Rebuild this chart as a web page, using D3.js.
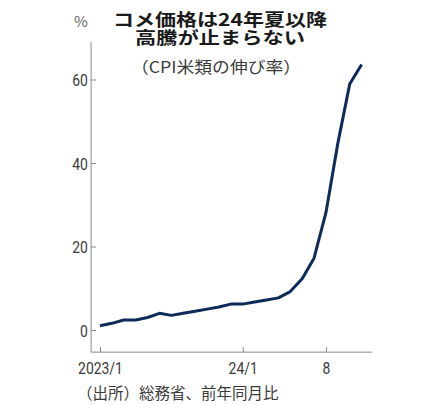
<!DOCTYPE html>
<html>
<head>
<meta charset="utf-8">
<script src="https://cdn.jsdelivr.net/npm/d3@7"></script>
<style>
    body { margin: 0; background: #fff; }
    #chart text { font-family: "Noto Sans CJK JP", "Noto Sans", sans-serif; }
    .tick text { font-family: Roboto, "Liberation Sans", sans-serif !important; }
</style>
</head>
<body>
<div id="chart"></div>
<script>
// 米類の前年同月比（%）, 2023/1 - 2024/11
var months = ["2023/1","2023/2","2023/3","2023/4","2023/5","2023/6","2023/7","2023/8","2023/9","2023/10","2023/11","2023/12",
              "2024/1","2024/2","2024/3","2024/4","2024/5","2024/6","2024/7","2024/8","2024/9","2024/10","2024/11"];
var riceRate = [1.0, 1.6, 2.4, 2.4, 3.0, 4.0, 3.5, 4.0, 4.5, 5.0, 5.5, 6.2,
                6.2, 6.7, 7.2, 7.7, 9.2, 12.3, 17.2, 28.1, 44.7, 58.9, 63.6];
var xTickMonths = ["2023/1", "2024/1", "2024/8"];
var xTickLabels = ["2023/1", "24/1", "8"];
var yTicks = [0, 20, 40, 60];

var width = 429, height = 405;

var svg = d3.select("#chart").append("svg")
        .attr("width", width)
        .attr("height", height);

// scales
var x = d3.scaleLinear().domain([0, months.length - 1]).range([100, 361.6]);
var y = d3.scaleLinear().domain([0, 60]).range([330, 79.5]);

var axisColor = "#8a8a8a";
var textColor = "#3a3a3a";

// title
svg.append("text")
        .attr("x", 113).attr("y", 26)
        .attr("textLength", 214).attr("lengthAdjust", "spacingAndGlyphs")
        .style("font-size", "17px").style("font-weight", "700").attr("fill", "#1a1a1a")
        .text("コメ価格は24年夏以降");
svg.append("text")
        .attr("x", 135).attr("y", 44)
        .attr("textLength", 170).attr("lengthAdjust", "spacingAndGlyphs")
        .style("font-size", "17px").style("font-weight", "700").attr("fill", "#1a1a1a")
        .text("高騰が止まらない");
svg.append("text")
        .attr("x", 131).attr("y", 73)
        .attr("textLength", 170).attr("lengthAdjust", "spacingAndGlyphs")
        .style("font-size", "16px").attr("fill", textColor)
        .text("（CPI米類の伸び率）");

// unit
svg.append("text")
        .attr("x", 81).attr("y", 27)
        .style("text-anchor", "middle")
        .style("font-size", "15px").attr("fill", "#666")
        .text("%");

// axes lines
var x0 = x(-0.75), x1 = x(22.85), yTop = y(69), yBottom = y(-5.3);
svg.append("line")
        .attr("x1", x0).attr("x2", x0).attr("y1", yTop).attr("y2", yBottom)
        .attr("stroke", axisColor).attr("stroke-width", 1);
svg.append("line")
        .attr("x1", x0).attr("x2", x1).attr("y1", yBottom).attr("y2", yBottom)
        .attr("stroke", axisColor).attr("stroke-width", 1);

// y axis ticks
var yAxis = d3.axisRight(y).tickValues(yTicks).tickSize(5).tickFormat(d3.format("d"));
var gy = svg.append("g")
        .attr("transform", "translate(" + x0 + ",0)")
        .call(yAxis);
gy.select(".domain").remove();
gy.selectAll(".tick line").attr("stroke", axisColor);
gy.selectAll(".tick text")
        .attr("x", -4).attr("dy", "0.36em")
        .style("text-anchor", "end")
        .style("font-size", "17px").attr("fill", textColor)
        .attr("transform", "scale(0.82,1)");

// x axis ticks
var xAxis = d3.axisTop(x)
        .tickValues(xTickMonths.map(function(m) { return months.indexOf(m); }))
        .tickSize(5)
        .tickFormat(function(d, i) { return xTickLabels[i]; });
var gx = svg.append("g")
        .attr("transform", "translate(0," + yBottom + ")")
        .call(xAxis);
gx.select(".domain").remove();
gx.selectAll(".tick line").attr("stroke", axisColor);
gx.selectAll(".tick text")
        .attr("y", 22).attr("dy", 0)
        .style("text-anchor", "middle")
        .style("font-size", "17px").attr("fill", textColor)
        .attr("transform", "scale(0.82,1)");

// line
var line = d3.line()
        .x(function(d, i) { return x(i); })
        .y(function(d) { return y(d); });
svg.append("path")
        .datum(riceRate)
        .attr("d", line)
        .attr("fill", "none")
        .attr("stroke", "#0c2b5a")
        .attr("stroke-width", 3)
        .attr("stroke-linejoin", "round")
        .attr("stroke-linecap", "butt");

// source
svg.append("text")
        .attr("x", 77).attr("y", 399)
        .style("font-size", "15.5px").attr("fill", textColor)
        .text("（出所）総務省、前年同月比");
</script>
</body>
</html>
